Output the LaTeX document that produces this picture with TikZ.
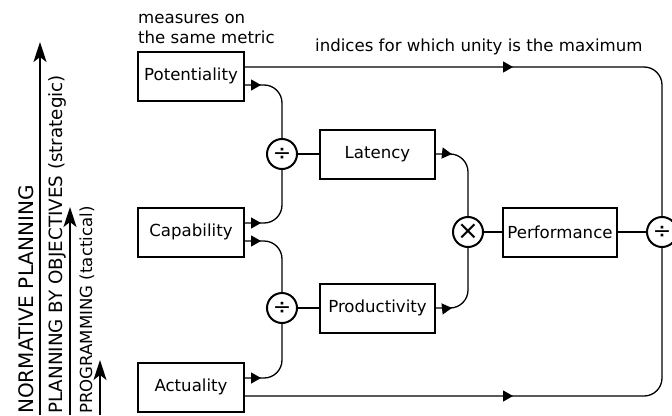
\documentclass[tikz,border=0pt]{standalone}
\usepackage{fontspec}
\setmainfont{DejaVu Sans}
\usetikzlibrary{arrows.meta,decorations.markings}

\begin{document}
\begin{tikzpicture}[
       x=1pt, y=-1pt,
       block/.style={draw, line width=2pt, minimum width=106pt, minimum height=49pt,
           inner sep=0pt, font=\fontsize{16.6}{20}\selectfont},
       oper/.style={draw, circle, line width=2pt, minimum size=30pt, inner sep=0pt,
           font=\fontsize{22}{22}\selectfont},
       link/.style={line width=1.3pt},
       feed/.style={link, rounded corners=18pt, postaction={decorate},
           decoration={markings, mark=at position #1 with {\arrow{Triangle[length=10pt,width=11pt]}}}},
       feed/.default=16pt,
       level/.style={line width=1.5pt, -{Stealth[length=20pt,width=13pt,inset=5pt]}},
       caption/.style={font=\fontsize{16.6}{20}\selectfont, inner sep=0pt}
   ]
   \useasboundingbox (0,0) rectangle (672,415);

   % the three measures
   \node[block] (pot) at (191,76) {Potentiality};
   \node[block] (cap) at (191,232) {Capability};
   \node[block] (act) at (191,387) {Actuality};

   % ratios and indices
   \node[oper] (div1) at (282,154) {÷};
   \node[oper] (div2) at (282,308) {÷};
   \node[block, minimum width=115pt] (lat) at (377.5,154) {Latency};
   \node[block, minimum width=115pt] (prod) at (377.5,308) {Productivity};
   \node[oper, font=\fontsize{26}{26}\selectfont] (mul) at (468,232) {×};
   \node[block, minimum width=114pt] (perf) at (560,232) {Performance};
   \node[oper] (div3) at (662,232) {÷};

   \node[caption, align=left, anchor=base west] (metric) at (138,43) {measures on\\the same metric};
   \node[caption, anchor=base west] (unity) at (315,51) {indices for which unity is the maximum};

   \draw[feed] ([yshift=-9pt]pot.east) -| (div1.north);
   \draw[feed] ([yshift=9pt]cap.east) -| (div1.south);
   \draw[feed] ([yshift=-9pt]cap.east) -| (div2.north);
   \draw[feed] ([yshift=9pt]act.east) -| (div2.south);
   \draw[link] (div1) -- (lat);
   \draw[link] (div2) -- (prod);
   \draw[feed] (lat.east) -| (mul.north);
   \draw[feed] (prod.east) -| (mul.south);
   \draw[link] (mul) -- (perf);
   \draw[link] (perf) -- (div3);
   \draw[feed=268pt] ([yshift=9pt]pot.east) -| (div3.north);
   \draw[feed=268pt] ([yshift=-9pt]act.east) -| (div3.south);

   % planning levels
   \foreach \lx/\ax/\tip/\sz/\txt in {33/40/42/20/NORMATIVE PLANNING,
           62/70/207/18.3/PLANNING BY OBJECTIVES (strategic),
           92/100/360/16.6/PROGRAMMING (tactical)} {
       \node[rotate=90, anchor=base west, inner sep=0pt,
           font=\fontsize{\sz}{\sz}\selectfont] (lbl\ax) at (\lx,414) {\txt};
       \coordinate (foot\ax) at (\ax,415);
       \coordinate (head\ax) at (\ax,\tip);
       \draw[level] (foot\ax) -- (head\ax);
   }
\end{tikzpicture}
\end{document}
